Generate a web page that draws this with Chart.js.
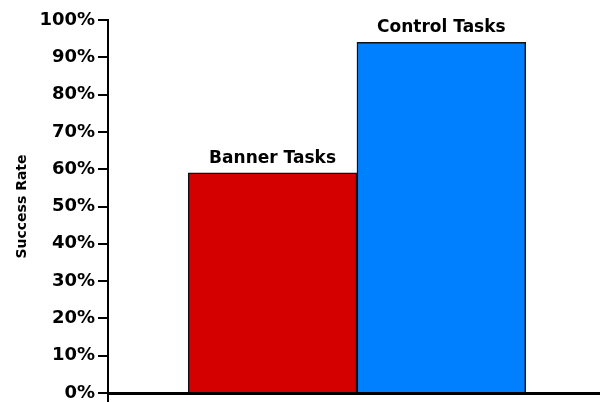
<!DOCTYPE html>
<html>
<head>
<meta charset="utf-8">
<script src="https://cdn.jsdelivr.net/npm/chart.js@4/dist/chart.umd.min.js"></script>
<style>
  html, body { margin: 0; padding: 0; background: #fff; }
  #wrap { width: 600px; height: 402px; }
</style>
</head>
<body>
<div id="wrap"><canvas id="myChart"></canvas></div>
<script>
var categories = ['Banner Tasks', 'Control Tasks']
var successRate = [59, 94]
var barColors = ['#D40000', '#0080FF']
var yTicks = [0, 10, 20, 30, 40, 50, 60, 70, 80, 90, 100]

// bars sit at x = 1, 2 on a linear axis so the gap to the y axis can be set
var points = successRate.map(function (v, i) { return { x: i + 1, y: v } })

var barLabels = {
  id: 'barLabels',
  afterDatasetsDraw: function (chart) {
    var ctx = chart.ctx
    var meta = chart.getDatasetMeta(0)
    ctx.save()
    ctx.font = 'bold 17px "DejaVu Sans"'
    ctx.fillStyle = '#000'
    ctx.textAlign = 'center'
    ctx.textBaseline = 'bottom'
    meta.data.forEach(function (bar, i) {
      ctx.fillText(categories[i], bar.x, bar.y - 6)
    })
    // y axis line runs on past the x axis to the bottom edge
    var a = chart.chartArea
    ctx.strokeStyle = '#000'
    ctx.lineWidth = 2
    ctx.beginPath()
    ctx.moveTo(a.left, a.bottom)
    ctx.lineTo(a.left, chart.height)
    ctx.stroke()
    ctx.restore()
  }
}

var ctx = document.getElementById('myChart').getContext('2d')
var chart = new Chart(ctx, {
  type: 'bar',
  data: {
    datasets: [{
      data: points,
      backgroundColor: barColors,
      borderColor: '#111',
      borderWidth: 1.5,
      categoryPercentage: 1,
      barPercentage: 1
    }]
  },
  options: {
    responsive: true,
    maintainAspectRatio: false,
    animation: false,
    layout: { padding: { top: 20, right: 0, bottom: 9, left: 0 } },
    plugins: { legend: { display: false }, tooltip: { enabled: false } },
    scales: {
      x: {
        type: 'linear',
        min: 0.025,
        max: 2.94,
        offset: false,
        afterBuildTicks: function (s) {
          s.ticks = categories.map(function (c, i) { return { value: i + 1 } })
        },
        afterFit: function (s) { s.height = 0 },
        ticks: { display: false },
        grid: { display: false, offset: false },
        border: { display: true, color: '#000', width: 3 }
      },
      y: {
        min: 0,
        max: 100,
        afterBuildTicks: function (s) {
          s.ticks = yTicks.map(function (v) { return { value: v } })
        },
        afterFit: function (s) {
          s.width = 108
          s.paddingTop = 0
          s.paddingBottom = 0
        },
        ticks: {
          padding: 3,
          color: '#000',
          font: { family: 'DejaVu Sans', weight: 'bold', size: 18 },
          callback: function (v) { return v + '%' }
        },
        grid: { drawOnChartArea: false, drawTicks: true, tickLength: 10, color: '#000', lineWidth: 2 },
        border: { display: true, color: '#000', width: 2 },
        title: {
          display: true,
          text: 'Success Rate',
          color: '#000',
          font: { family: 'DejaVu Sans', weight: 'bold', size: 14 },
          padding: { top: 14, bottom: 0 }
        }
      }
    }
  },
  plugins: [barLabels]
})
</script>
</body>
</html>
